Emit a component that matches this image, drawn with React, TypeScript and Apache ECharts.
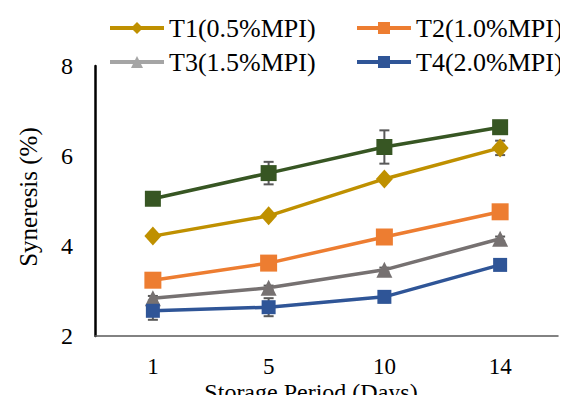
import React, { useEffect, useRef } from "react";
import * as echarts from "echarts";

const days = ["1", "5", "10", "14"];
const control = [5.05, 5.62, 6.2, 6.64];
const controlErr = [0.05, 0.25, 0.37, 0.08];
const t1 = [4.22, 4.67, 5.49, 6.18];
const t1Err = [0.05, 0.05, 0.05, 0.16];
const t2 = [3.24, 3.62, 4.2, 4.76];
const t2Err = [0.05, 0.05, 0.05, 0.05];
const t3 = [2.84, 3.07, 3.47, 4.16];
const t3Err = [0.05, 0.05, 0.05, 0.05];
const t4 = [2.56, 2.64, 2.87, 3.58];
const t4Err = [0.2, 0.2, 0.12, 0.05];
const yTicks = [2, 4, 6, 8];

const FONT = "'Liberation Serif', serif";

function errData(vals: number[], errs: number[]) {
  return vals.map((v, i) => [i, v - errs[i], v + errs[i]]);
}

function errSeries(vals: number[], errs: number[]) {
  return {
    type: "custom",
    silent: true,
    z: 1,
    data: errData(vals, errs),
    renderItem: (params: any, api: any) => {
      const x = api.value(0);
      const lo = api.coord([x, api.value(1)]);
      const hi = api.coord([x, api.value(2)]);
      const w = 5;
      const style = { stroke: "#595959", lineWidth: 2 };
      return {
        type: "group",
        children: [
          { type: "line", shape: { x1: lo[0], y1: lo[1], x2: hi[0], y2: hi[1] }, style },
          { type: "line", shape: { x1: lo[0] - w, y1: lo[1], x2: lo[0] + w, y2: lo[1] }, style },
          { type: "line", shape: { x1: hi[0] - w, y1: hi[1], x2: hi[0] + w, y2: hi[1] }, style },
        ],
      };
    },
  };
}

function lineSeries(name: string, data: number[], color: string, symbol: string, size: number | number[]) {
  return {
    name,
    type: "line",
    data,
    z: 3,
    symbol,
    symbolSize: size,
    lineStyle: { color, width: 3.5 },
    itemStyle: { color, borderWidth: 0 },
  };
}

export default function App() {
  const ref = useRef<HTMLDivElement>(null);
  useEffect(() => {
    if (!ref.current) return;
    const chart = echarts.init(ref.current, undefined, { renderer: "svg" });
    const legendText = { fontFamily: FONT, fontSize: 26, color: "#000" };
    const mkLegend = (name: string, left: number, top: number, color: string) => ({
      left,
      top,
      padding: 0,
      itemWidth: 54,
      itemHeight: 15,
      itemGap: 4,
      textStyle: legendText,
      data: [
        {
          name,
          itemStyle: { color },
          lineStyle: { color, width: 4 },
          textStyle: legendText,
        },
      ],
    });
    chart.setOption({
      animation: false,
      textStyle: { fontFamily: FONT },
      grid: { left: 95, right: 10, top: 66, bottom: 67 },
      legend: [
        mkLegend("T1(0.5%MPI)", 108, 15, "#BF9000"),
        mkLegend("T2(1.0%MPI)", 355, 15, "#ED7D31"),
        mkLegend("T3(1.5%MPI)", 108, 49, "#A5A5A5"),
        mkLegend("T4(2.0%MPI)", 355, 49, "#2F5597"),
      ],
      xAxis: {
        type: "category",
        data: days,
        boundaryGap: true,
        axisLine: { lineStyle: { color: "#595959", width: 1.5 } },
        axisTick: { show: false },
        axisLabel: { fontFamily: FONT, fontSize: 23, lineHeight: 18, color: "#000", margin: 21 },
      },
      yAxis: {
        type: "value",
        min: yTicks[0],
        max: yTicks[yTicks.length - 1],
        interval: 2,
        axisLine: { show: true, lineStyle: { color: "#000", width: 2.5 } },
        axisTick: { show: false },
        splitLine: { show: false },
        axisLabel: { fontFamily: FONT, fontSize: 24, color: "#000", margin: 22 },
      },
      graphic: [
        {
          type: "text",
          x: 28,
          y: 197,
          rotation: Math.PI / 2,
          style: {
            text: "Syneresis (%)",
            fontFamily: FONT,
            fontSize: 25,
            fill: "#000",
            align: "center",
            verticalAlign: "middle",
          },
        },
        {
          type: "text",
          x: 311,
          y: 392,
          style: {
            text: "Storage Period (Days)",
            fontFamily: FONT,
            fontSize: 24,
            lineHeight: 20,
            fill: "#000",
            align: "center",
            verticalAlign: "middle",
          },
        },
      ],
      series: [
        errSeries(control, controlErr),
        errSeries(t1, t1Err),
        errSeries(t2, t2Err),
        errSeries(t3, t3Err),
        errSeries(t4, t4Err),
        lineSeries("Control", control, "#375623", "rect", 16),
        lineSeries("T1(0.5%MPI)", t1, "#BF9000", "diamond", [17, 19]),
        lineSeries("T2(1.0%MPI)", t2, "#ED7D31", "rect", 17),
        lineSeries("T3(1.5%MPI)", t3, "#767171", "triangle", 16),
        lineSeries("T4(2.0%MPI)", t4, "#2F5597", "rect", 14),
      ],
    });
    return () => chart.dispose();
  }, []);
  return <div ref={ref} style={{ width: 568, height: 403, margin: -8 }} />;
}
